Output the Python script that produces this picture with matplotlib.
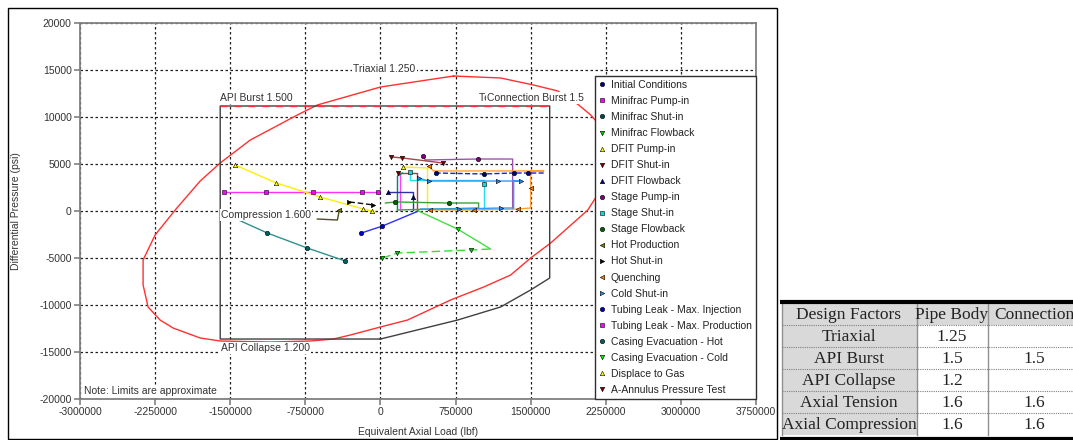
import matplotlib
matplotlib.use('Agg')
import matplotlib.pyplot as plt
from matplotlib.lines import Line2D
from matplotlib.patches import Rectangle

plt.rcParams['font.family'] = ['Liberation Sans', 'DejaVu Sans']

# axes ticks
x_ticks = [-3000000, -2250000, -1500000, -750000, 0, 750000, 1500000, 2250000, 3000000, 3750000]
y_ticks = [-20000, -15000, -10000, -5000, 0, 5000, 10000, 15000, 20000]

# triaxial (von Mises) ellipse
triax_x = [730000, 1200000, 1530000, 1770000, 1980000, 2100000, 2250000, 2320000, 2230000,
           2070000, 1700000, 1500000, 1300000, 1030000, 700000, 270000, 0, -300000, -470000,
           -700000, -1100000, -1600000, -1800000, -2070000, -2200000, -2320000, -2370000,
           -2370000, -2250000, -2050000, -1800000, -1600000, -1300000, -830000, -630000, 0, 730000]
triax_y = [14360, 14150, 13400, 12770, 11280, 10210, 8400, 5960, 2770,
           100, -3400, -5000, -6810, -8090, -9470, -11600, -12340, -13190, -13620,
           -13830, -13940, -13830, -13510, -12450, -11600, -10210, -7870,
           -5210, -2550, 100, 3190, 5110, 7550, 10210, 11280, 13190, 14360]

# API burst / collapse / axial envelope
api_x = [0, -1600000, -1600000, 1690000, 1690000, 1500000, 1200000, 770000, 0]
api_y = [-13620, -13620, 11170, 11170, -7130, -8400, -10210, -11600, -13620]
conn_burst_x = [-1600000, 1690000]
conn_burst_y = [11170, 11170]

# load cases
initial_x = [550000, 1030000, 1330000, 1470000, 1630000]
initial_y = [4040, 3940, 4040, 4040, 4040]
minifrac_pump_x = [200000, 200000]
minifrac_pump_y = [110, 4040]
minifrac_shut_x = [170000, 170000, 220000]
minifrac_shut_y = [110, 3720, 4040]
minifrac_flow_x = [20000, 170000, 900000, 1100000]
minifrac_flow_y = [-5000, -4470, -4150, -4040]
dfit_pump_x = [230000, 470000, 470000]
dfit_pump_y = [4680, 4580, 110]
dfit_shut_x = [180000, 370000, 370000]
dfit_shut_y = [4040, 4040, 110]
dfit_flow_x = [80000, 330000, 330000, 330000]
dfit_flow_y = [2020, 2020, 1490, 110]
stage_pump_x = [420000, 450000, 970000, 1320000, 1320000]
stage_pump_y = [5850, 5430, 5530, 5530, 210]
stage_shut_x = [300000, 300000, 1030000, 1030000, 1030000]
stage_shut_y = [4150, 3300, 3300, 2870, 110]
stage_flow_x = [50000, 150000, 680000, 980000, 980000, 170000]
stage_flow_y = [850, 960, 850, 850, 320, 110]
hot_prod_x = [-630000, -430000, -410000]
hot_prod_y = [-850, -960, 110]
hot_shut_x = [-310000, -220000, -70000]
hot_shut_y = [960, 850, 640]
quench_x = [480000, 530000, 1630000, 1500000, 1500000, 1500000, 1370000, 930000, 490000]
quench_y = [4790, 4260, 4260, 4260, 2450, 320, 210, 110, 110]
cold_shut_x = [380000, 480000, 1170000, 1400000, 1330000, 1330000, 1200000, 780000, 400000]
cold_shut_y = [3510, 3190, 3190, 3190, 3190, 320, 320, 210, 210]
leak_inj_x = [-190000, 20000, 380000]
leak_inj_y = [-2340, -1600, 0]
leak_prod_x = [-1560000, -1140000, -670000, -180000, -20000]
leak_prod_y = [2020, 2020, 2020, 2020, 2020]
evac_hot_x = [-1550000, -1130000, -730000, -350000]
evac_hot_y = [-320, -2340, -3940, -5320]
evac_cold_x = [380000, 770000, 1100000]
evac_cold_y = [0, -1920, -4040]
displace_x = [-1450000, -1040000, -600000, -170000, -80000]
displace_y = [4890, 2980, 1490, 210, 0]
annulus_x = [110000, 220000, 620000]
annulus_y = [5750, 5640, 5110]

case_names = ['Initial Conditions', 'Minifrac Pump-in', 'Minifrac Shut-in', 'Minifrac Flowback',
              'DFIT Pump-in', 'DFIT Shut-in', 'DFIT Flowback', 'Stage Pump-in', 'Stage Shut-in',
              'Stage Flowback', 'Hot Production', 'Hot Shut-in', 'Quenching', 'Cold Shut-in',
              'Tubing Leak - Max. Injection', 'Tubing Leak - Max. Production',
              'Casing Evacuation - Hot', 'Casing Evacuation - Cold', 'Displace to Gas',
              'A-Annulus Pressure Test']
case_x = [initial_x, minifrac_pump_x, minifrac_shut_x, minifrac_flow_x, dfit_pump_x, dfit_shut_x,
          dfit_flow_x, stage_pump_x, stage_shut_x, stage_flow_x, hot_prod_x, hot_shut_x, quench_x,
          cold_shut_x, leak_inj_x, leak_prod_x, evac_hot_x, evac_cold_x, displace_x, annulus_x]
case_y = [initial_y, minifrac_pump_y, minifrac_shut_y, minifrac_flow_y, dfit_pump_y, dfit_shut_y,
          dfit_flow_y, stage_pump_y, stage_shut_y, stage_flow_y, hot_prod_y, hot_shut_y, quench_y,
          cold_shut_y, leak_inj_y, leak_prod_y, evac_hot_y, evac_cold_y, displace_y, annulus_y]

# style: (line colour, marker colour, marker, linestyle, marked vertices)
case_style = [
    ('#2020d0', '#000080', 'o', '--', [0, 1, 2, 3]),
    ('#ff40ff', '#ff00ff', 's', '-', []),
    ('#008080', '#004c4c', 'o', '-', []),
    ('#33dd33', '#00cc00', 'v', (0, (6, 3)), [0, 1, 2]),
    ('#ffee00', '#ffff00', '^', '-', [0]),
    ('#a04040', '#800000', 'v', '-', [0]),
    ('#3030a0', '#000080', '^', '-', [0, 2]),
    ('#a050b0', '#800080', 'o', '-', [0, 2]),
    ('#20e0f0', '#00e0e0', 's', '-', [0, 3]),
    ('#40a040', '#006400', 'o', '-', [1, 2]),
    ('#505010', '#808000', '<', '-', [2]),
    ('#101010', '#000000', '>', (0, (4, 2)), [0, 2]),
    ('#ffa030', '#ff8000', '<', '-', [0, 4, 6, 7, 8]),
    ('#3399ff', '#1e90ff', '>', '-', [0, 1, 2, 3, 6, 7]),
    ('#3030ff', '#0000cc', 'o', '-', [0, 1]),
    ('#ff30ff', '#ff00ff', 's', '-', [0, 1, 2, 3, 4]),
    ('#309090', '#006060', 'o', '-', [1, 2, 3]),
    ('#44dd44', '#00ee00', 'v', '-', [1]),
    ('#ffee00', '#ffff00', '^', '-', [0, 1, 2, 3, 4]),
    ('#a04848', '#800000', 'v', '-', [0, 1, 2]),
]

fig = plt.figure(figsize=(10.73, 4.40), dpi=100)
ax = fig.add_axes([80 / 1073, 1 - 399 / 440, 676 / 1073, 376 / 440])

ax.plot(triax_x, triax_y, color='#ff3030', lw=1.0, zorder=2)
ax.plot(api_x, api_y, color='#404040', lw=1.0, zorder=2)
ax.plot(conn_burst_x, conn_burst_y, color='#ff3030', lw=1.0, ls=(0, (5, 5)), zorder=2.1)

handles = []
for name, xs, ys, st in zip(case_names, case_x, case_y, case_style):
    lc, mc, mk, ls, marks = st
    ax.plot(xs, ys, color=lc, lw=1.0, ls=ls, zorder=3)
    if marks:
        ax.plot([xs[i] for i in marks], [ys[i] for i in marks], ls='none', marker=mk,
                ms=3.2, mfc=mc, mec='black', mew=0.4, zorder=4)
    handles.append(Line2D([], [], ls='none', marker=mk, ms=3.2, mfc=mc, mec='black', mew=0.4,
                          label=name))

box = dict(facecolor='white', edgecolor='none', pad=0.8)
tkw = dict(fontsize=7.5, color='#333333', zorder=3.5)
ax.text(40000, 15150, 'Triaxial 1.250', ha='center', va='center', bbox=box, **tkw)
ax.text(-1600000, 12000, 'API Burst 1.500', ha='left', va='center', bbox=box, **tkw)
ax.text(980000, 12000, 'Tension 1.600', ha='left', va='center', **tkw)
ax.text(1065000, 12000, 'Connection Burst 1.5', ha='left', va='center', bbox=box, **tkw)
ax.text(-1590000, -430, 'Compression 1.600', ha='left', va='center', bbox=box, **tkw)
ax.text(-1590000, -14580, 'API Collapse 1.200', ha='left', va='center', bbox=box, **tkw)
ax.text(0.006, 0.02, 'Note: Limits are approximate', transform=ax.transAxes, ha='left',
        va='center', bbox=box, **tkw)

ax.set_xlim(x_ticks[0], x_ticks[-1])
ax.set_ylim(y_ticks[0], y_ticks[-1])
ax.set_xticks(x_ticks)
ax.set_yticks(y_ticks)
ax.set_xticklabels([str(v) for v in x_ticks])
ax.set_yticklabels([str(v) for v in y_ticks])
ax.tick_params(labelsize=7.5, labelcolor='#333333', color='#808080', length=4, width=1.2,
               direction='out', pad=2)
for sp in ax.spines.values():
    sp.set_color('#808080')
    sp.set_linewidth(1.3)
ax.grid(True, color='#202020', ls=(0, (2, 2)), lw=0.9, zorder=0)
ax.set_axisbelow(True)

ax.set_xlabel('Equivalent Axial Load (lbf)', fontsize=7.5, color='#333333')
ax.set_ylabel('Differential Pressure (psi)', fontsize=7.5, color='#333333')
ax.xaxis.set_label_coords(0.5, -0.075)
ax.yaxis.set_label_coords(-0.087, 0.5)

leg = ax.legend(handles=handles, loc='lower right', bbox_to_anchor=(1.0, 0.0), borderaxespad=0,
                fontsize=7.5, frameon=True, fancybox=False, framealpha=1, edgecolor='#303030',
                handlelength=0.4, handletextpad=0.7, borderpad=0.4, labelspacing=0.58)
leg.get_frame().set_linewidth(1.0)
leg.set_zorder(6)
for t in leg.get_texts():
    t.set_color('#222222')

# chart border
fig.add_artist(Rectangle((8 / 1073, 1 / 440), 769 / 1073, 431 / 440, transform=fig.transFigure,
                         fill=False, ec='black', lw=1.0))

# design factor table
factor_names = ['Triaxial', 'API Burst', 'API Collapse', 'Axial Tension', 'Axial Compression']
pipe_body = ['1.25', '1.5', '1.2', '1.6', '1.6']
connection = ['', '1.5', '', '1.6', '1.6']
table_header = ['Design Factors', 'Pipe Body', 'Connection']

tax = fig.add_axes([780 / 1073, 0, 293 / 1073, 145 / 440])
tax.set_xlim(780, 1073)
tax.set_ylim(440, 295)
tax.axis('off')
col_edges = [782, 917, 988, 1090]
col_centers = [849, 952, 1034]
row_top = 303
row_h = 22
n_rows = len(factor_names) + 1
for r in range(n_rows):
    y0 = row_top + r * row_h
    for c in range(3):
        gray = r == 0 or c == 0
        tax.add_patch(Rectangle((col_edges[c], y0), col_edges[c + 1] - col_edges[c], row_h,
                                fc='#d9d9d9' if gray else 'white', ec='none'))
    if r > 0:
        tax.plot([col_edges[0], col_edges[-1]], [y0, y0], color='#808080', lw=0.8, ls=(0, (1, 1)))
for xe in col_edges[:-1]:
    tax.plot([xe, xe], [row_top, row_top + n_rows * row_h], color='#909090', lw=1.0)
tax.plot([780, 1073], [301.5, 301.5], color='black', lw=3.0)
tax.plot([780, 1073], [438.5, 438.5], color='black', lw=3.0)

tfont = dict(family=['Liberation Serif', 'DejaVu Serif'], fontsize=12.5, color='#222222',
             ha='center', va='center')
for c, h in enumerate(table_header):
    tax.text(col_centers[c], row_top + row_h / 2 + 1, h, **tfont)
rows = list(zip(factor_names, pipe_body, connection))
for r, row in enumerate(rows):
    yc = row_top + (r + 1) * row_h + row_h / 2 + 1
    for c, val in enumerate(row):
        tax.text(col_centers[c], yc, val, **tfont)

fig.savefig('out.png', dpi=100)
